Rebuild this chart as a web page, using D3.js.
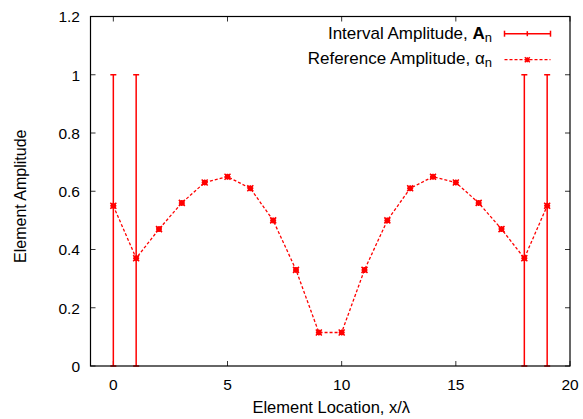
<!DOCTYPE html>
<html><head><meta charset="utf-8">
<script src="https://cdn.jsdelivr.net/npm/d3@7"></script>
<style>body{margin:0;background:#fff}svg{display:block}text{font-family:"Liberation Sans",Arial,sans-serif}</style>
</head><body>
<svg id="c" width="583" height="419"></svg>
<script>
const elements = [0,1,2,3,4,5,6,7,8,9,10,11,12,13,14,15,16,17,18,19];
const reference = [0.55,0.37,0.47,0.56,0.63,0.65,0.61,0.50,0.33,0.115,0.115,0.33,0.50,0.61,0.65,0.63,0.56,0.47,0.37,0.55];
const intervalElems = [0,1,18,19];
const intervalLow = [0,0,0,0];
const intervalHigh = [1,1,1,1];
const xTicks = [0,5,10,15,20];
const yTicks = [0,0.2,0.4,0.6,0.8,1,1.2];
const yTickLabels = ["0","0.2","0.4","0.6","0.8","1","1.2"];

const red = "#ff0000";
const L=90.5, R=570, T=16.5, B=366;
const svg = d3.select("#c");
const x = d3.scaleLinear().domain([-1,20]).range([L,R]);
const y = d3.scaleLinear().domain([0,1.2]).range([B,T]);

// ticks (inward, mirrored)
const tl = 5;
const g = svg.append("g");
xTicks.forEach(t=>{
  g.append("line").attr("x1",x(t)).attr("x2",x(t)).attr("y1",B).attr("y2",B-tl).attr("stroke","#333").attr("stroke-width",1);
  g.append("line").attr("x1",x(t)).attr("x2",x(t)).attr("y1",T).attr("y2",T+tl).attr("stroke","#333").attr("stroke-width",1);
  g.append("text").attr("x",x(t)).attr("y",389.5).attr("text-anchor","middle").attr("font-size",15.5).attr("fill","#000").text(t);
});
yTicks.forEach((t,i)=>{
  g.append("line").attr("x1",L).attr("x2",L+tl).attr("y1",y(t)).attr("y2",y(t)).attr("stroke","#333").attr("stroke-width",1);
  g.append("line").attr("x1",R).attr("x2",R-tl).attr("y1",y(t)).attr("y2",y(t)).attr("stroke","#333").attr("stroke-width",1);
  g.append("text").attr("x",80).attr("y",y(t)+5.8).attr("text-anchor","end").attr("font-size",15.5).attr("fill","#000").text(yTickLabels[i]);
});

// error bars
const cap = 3;
intervalElems.forEach((e,i)=>{
  svg.append("line").attr("x1",x(e)).attr("x2",x(e)).attr("y1",y(intervalLow[i])).attr("y2",y(intervalHigh[i])).attr("stroke",red).attr("stroke-width",1.5);
  svg.append("line").attr("x1",x(e)-cap).attr("x2",x(e)+cap).attr("y1",y(intervalHigh[i])).attr("y2",y(intervalHigh[i])).attr("stroke",red).attr("stroke-width",1.5);
  svg.append("line").attr("x1",x(e)-cap).attr("x2",x(e)+cap).attr("y1",y(intervalLow[i])).attr("y2",y(intervalLow[i])).attr("stroke",red).attr("stroke-width",1.5);
});

// reference line
const line = d3.line().x((d,i)=>x(elements[i])).y(d=>y(d));
svg.append("path").datum(reference).attr("d",line).attr("fill","none").attr("stroke",red).attr("stroke-width",1.3).attr("stroke-dasharray","3,2");
function star(gg,cx,cy,s){
  gg.append("path").attr("d",`M${cx-s},${cy-s}L${cx+s},${cy+s}M${cx-s},${cy+s}L${cx+s},${cy-s}M${cx-s},${cy}L${cx+s},${cy}M${cx},${cy-s}L${cx},${cy+s}`)
    .attr("stroke",red).attr("stroke-width",1.5).attr("fill","none");
}
reference.forEach((d,i)=>{
  svg.append("rect").attr("x",x(elements[i])-2.5).attr("y",y(d)-2.5).attr("width",5).attr("height",5).attr("fill",red);
  star(svg,x(elements[i]),y(d),3);
});

// frame
svg.append("rect").attr("x",L).attr("y",T).attr("width",R-L).attr("height",B-T).attr("fill","none").attr("stroke","#000").attr("stroke-width",1.2);

// legend
const lg = svg.append("g");
const t1 = lg.append("text").attr("x",492).attr("y",39.3).attr("text-anchor","end").attr("font-size",17).attr("fill","#000");
t1.append("tspan").text("Interval Amplitude, ");
t1.append("tspan").attr("font-weight","bold").text("A");
t1.append("tspan").attr("font-size",13).attr("dy",3).text("n");
const t2 = lg.append("text").attr("x",492).attr("y",64).attr("text-anchor","end").attr("font-size",17).attr("fill","#000");
t2.append("tspan").text("Reference Amplitude, α");
t2.append("tspan").attr("font-size",13).attr("dy",3).text("n");
const lx1=504.5, lx2=550.5, ly1=33.7, ly2=59.7;
lg.append("line").attr("x1",lx1).attr("x2",lx2).attr("y1",ly1).attr("y2",ly1).attr("stroke",red).attr("stroke-width",1.5);
[lx1,lx2].forEach(v=>lg.append("line").attr("x1",v).attr("x2",v).attr("y1",ly1-3).attr("y2",ly1+3).attr("stroke",red).attr("stroke-width",1.5));
lg.append("line").attr("x1",527.3).attr("x2",527.3).attr("y1",ly1-2.5).attr("y2",ly1+2.5).attr("stroke",red).attr("stroke-width",1.5);
lg.append("line").attr("x1",lx1).attr("x2",lx2).attr("y1",ly2).attr("y2",ly2).attr("stroke",red).attr("stroke-width",1.3).attr("stroke-dasharray","3,2");
star(lg,527.3,ly2,2.5);

// axis titles
svg.append("text").attr("x",(L+R)/2+1).attr("y",413).attr("text-anchor","middle").attr("font-size",16.5).attr("fill","#000").text("Element Location, x/λ");
svg.append("text").attr("transform",`translate(25.5,${(T+B)/2+5}) rotate(-90)`).attr("text-anchor","middle").attr("font-size",16).attr("fill","#000").text("Element Amplitude");
</script>
</body></html>
